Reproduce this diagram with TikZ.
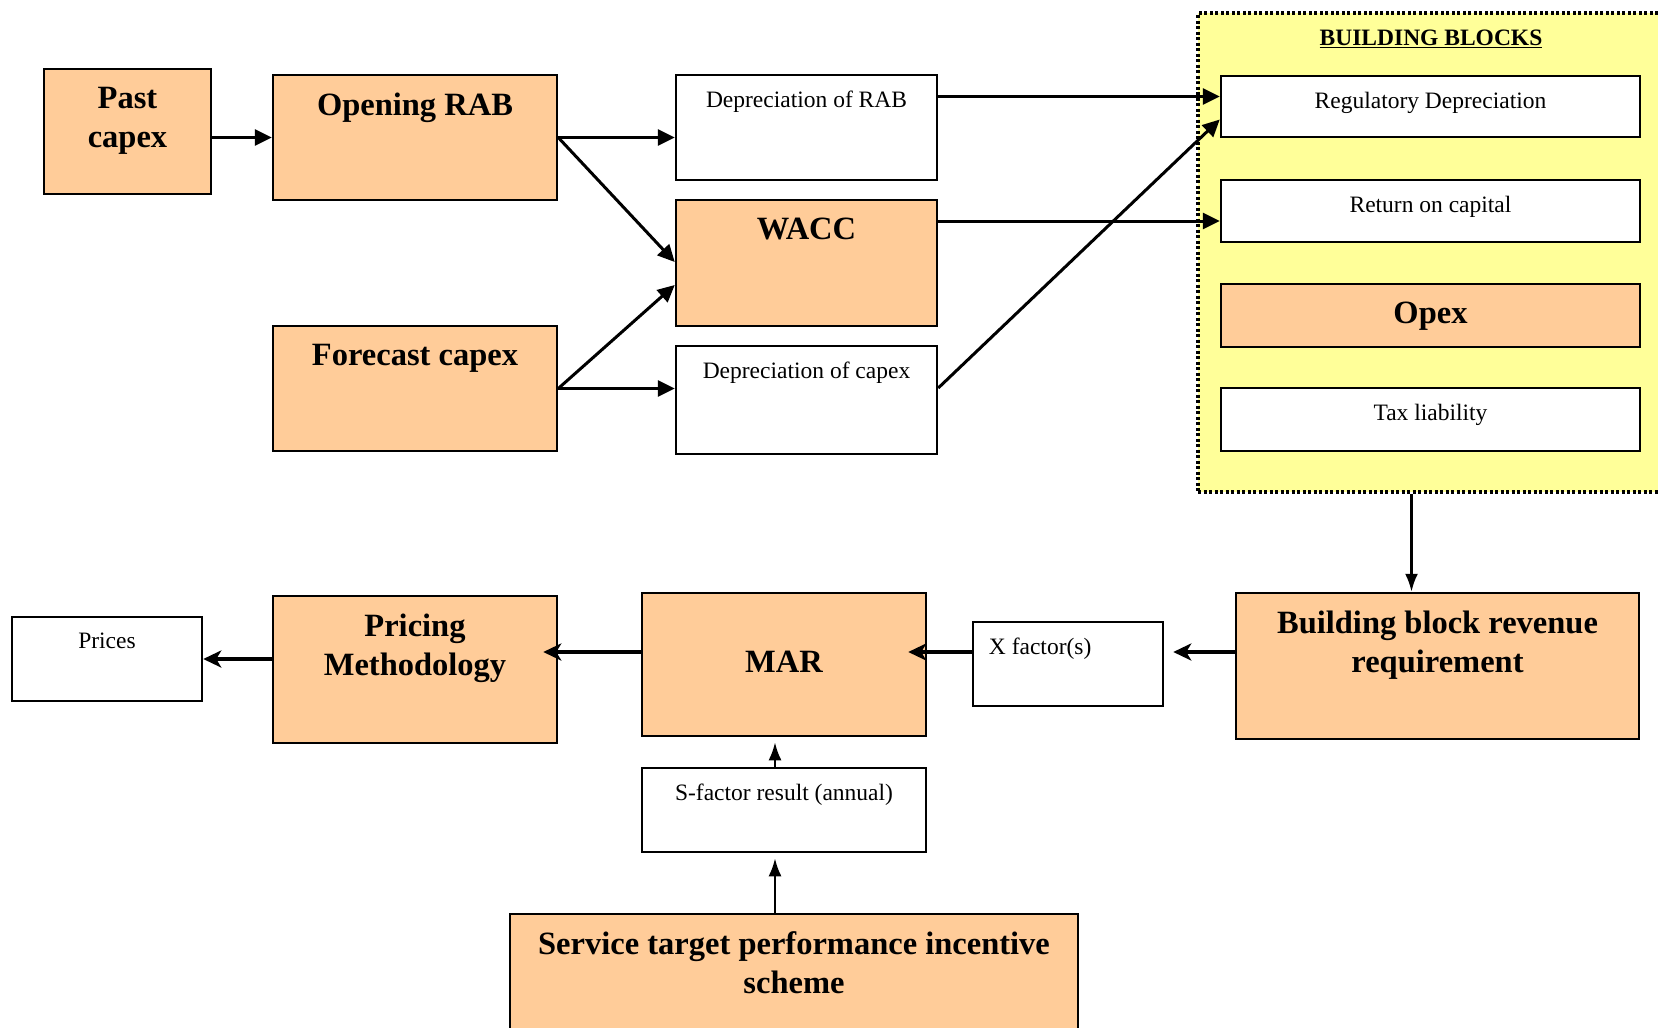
\documentclass[tikz,border=0pt]{standalone}
\usepackage{fontspec}
\setmainfont{Liberation Serif}
\usetikzlibrary{positioning,arrows.meta}
\definecolor{blockorange}{HTML}{FFCC99}
\definecolor{blockyellow}{HTML}{FFFF99}

\begin{document}
\begin{tikzpicture}[x=1pt, y=-1pt,
    sz/.style 2 args={minimum width=#1pt, minimum height=#2pt},
    obox/.style={draw, line width=2.5pt, fill=blockorange, inner sep=0pt},
    wbox/.style={draw, line width=2.5pt, fill=white, inner sep=0pt}]
  \tikzset{bigtxt/.style={font=\fontsize{32.5}{39}\selectfont\bfseries, align=center, inner sep=0pt},
    smalltxt/.style={font=\fontsize{23.5}{28}\selectfont, inner sep=0pt},
    arr/.style={-{Triangle[length=17pt,width=16pt]}, line width=3pt},
    fatarr/.style={-{Stealth[length=18pt,width=17pt,inset=5pt]}, line width=4.5pt},
    thinarr/.style={-{Latex[length=18pt,width=13pt]}, line width=2.5pt}}
  \useasboundingbox (0,0) rectangle (1658,1028);

  % building blocks frame
  \node[draw, line width=4pt, dash pattern=on 3pt off 2.5pt, fill=blockyellow, sz={502}{479}] (bb) at (1449,252.5) {};
  \node[smalltxt, font=\fontsize{23.5}{28}\selectfont\bfseries, anchor=north] (bbt) at (1431,30) {\underline{BUILDING BLOCKS}};
  \node[wbox, sz={419}{61}] (regdep) at (1430.5,106.5) {};
  \node[wbox, sz={419}{62}] (roc) at (1430.5,211) {};
  \node[obox, sz={419}{63}] (opex) at (1430.5,315.5) {};
  \node[wbox, sz={419}{63}] (tax) at (1430.5,419.5) {};
  \node[smalltxt, below=17pt of regdep.north] (regdept) {Regulatory Depreciation};
  \node[smalltxt, below=17pt of roc.north] (roct) {Return on capital};
  \node[bigtxt, below=19pt of opex.north] (opext) {Opex};
  \node[smalltxt, below=17pt of tax.north] (taxt) {Tax liability};

  % capital side
  \node[obox, sz={167}{125}] (past) at (127.5,131.5) {};
  \node[obox, sz={284}{125}] (rab) at (415,137.5) {};
  \node[obox, sz={284}{125}] (fcapex) at (415,388.5) {};
  \node[wbox, sz={261}{105}] (deprab) at (806.5,127.5) {};
  \node[obox, sz={261}{126}] (wacc) at (806.5,263) {};
  \node[wbox, sz={261}{108}] (depcap) at (806.5,400) {};
  \node[bigtxt, below=19pt of past.north] (pastt) {Past\\capex};
  \node[bigtxt, below=19pt of rab.north] (rabt) {Opening RAB};
  \node[bigtxt, below=19pt of fcapex.north] (fcapext) {Forecast capex};
  \node[smalltxt, below=17pt of deprab.north] (deprabt) {Depreciation of RAB};
  \node[bigtxt, below=19pt of wacc.north] (wacct) {WACC};
  \node[smalltxt, below=17pt of depcap.north] (depcapt) {Depreciation of capex};

  % revenue side
  \node[obox, sz={403}{146}] (bbrr) at (1437.5,666) {};
  \node[wbox, sz={190}{84}] (xf) at (1068,664) {};
  \node[obox, sz={284}{143}] (mar) at (784,664.5) {};
  \node[obox, sz={284}{147}] (pm) at (415,669.5) {};
  \node[wbox, sz={190}{84}] (prices) at (107,659) {};
  \node[wbox, sz={284}{84}] (sfac) at (784,810) {};
  \node[obox, sz={568}{140}] (stpis) at (794,984) {};
  \node[bigtxt, below=19pt of bbrr.north] (bbrrt) {Building block revenue\\requirement};
  \node[smalltxt, below right=17pt and 17pt of xf.north west] (xft) {X factor(s)};
  \node[bigtxt] (mart) at ([yshift=3pt]mar.center) {MAR};
  \node[bigtxt, below=19pt of pm.north] (pmt) {Pricing\\Methodology};
  \node[smalltxt, below=17pt of prices.north] (pricest) {Prices};
  \node[smalltxt, below=17pt of sfac.north] (sfact) {S-factor result (annual)};
  \node[bigtxt, below=19pt of stpis.north] (stpist) {Service target performance incentive\\scheme};

  % connectors
  \coordinate (rdin) at ([yshift=10pt]regdep.west);
  \coordinate (rocin) at ([yshift=-10pt]roc.west);
  \coordinate (bbrrin) at ([xshift=-26pt]bbrr.north);
  \draw[arr] (past.east |- rab.west) -- (rab.west);
  \draw[arr] (rab.east) -- (deprab.west |- rab.east);
  \draw[arr] (rab.east) -- ([yshift=1pt]wacc.west);
  \draw[arr] (fcapex.east) -- ([yshift=-22pt]wacc.west);
  \draw[arr] (fcapex.east) -- (depcap.west |- fcapex.east);
  \draw[arr] (deprab.east |- rdin) -- (rdin);
  \draw[arr] (wacc.east |- rocin) -- (rocin);
  \draw[arr] ([yshift=12pt]depcap.east) -- ([yshift=-13pt]regdep.west);
  \draw[thinarr] (bb.south -| bbrrin) -- (bbrrin);
  \draw[fatarr] ([yshift=14pt]bbrr.west) -- ([xshift=9pt,yshift=12pt]xf.east);
  \draw[fatarr] ([yshift=12pt]xf.west) -- ([xshift=-19pt,yshift=12.5pt]mar.east);
  \draw[fatarr] ([yshift=12.5pt]mar.west) -- ([xshift=-15pt,yshift=17.5pt]pm.east);
  \draw[fatarr] ([yshift=10.5pt]pm.west) -- (prices.east);
  \draw[thinarr] ([xshift=-9pt]sfac.north) -- ([xshift=-9pt,yshift=-5pt]mar.south);
  \draw[thinarr] ([xshift=-19pt]stpis.north) -- ([xshift=-9pt,yshift=-5pt]sfac.south);
\end{tikzpicture}
\end{document}
